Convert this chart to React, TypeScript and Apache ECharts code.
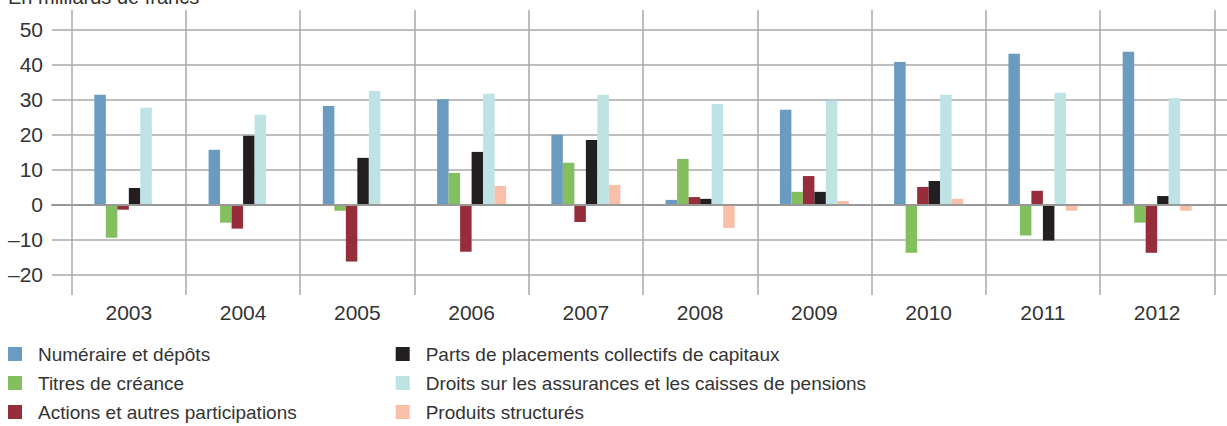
import React, { useEffect, useRef } from "react";
import * as echarts from "echarts";

const years = ["2003", "2004", "2005", "2006", "2007", "2008", "2009", "2010", "2011", "2012"];
const seriesNames = [
  "Numéraire et dépôts",
  "Titres de créance",
  "Actions et autres participations",
  "Parts de placements collectifs de capitaux",
  "Droits sur les assurances et les caisses de pensions",
  "Produits structurés",
];
const numeraire = [31.3, 15.6, 28.1, 30.0, 19.9, 1.3, 27.0, 40.7, 43.0, 43.6];
const titres = [-9.5, -5.2, -1.8, 9.0, 11.9, 13.0, 3.6, -13.8, -8.9, -5.2];
const actions = [-1.5, -6.9, -16.3, -13.5, -5.0, 2.1, 8.1, 5.0, 3.9, -13.8];
const parts = [4.7, 19.6, 13.3, 15.0, 18.4, 1.6, 3.6, 6.7, -10.3, 2.4];
const droits = [27.6, 25.6, 32.4, 31.6, 31.3, 28.7, 29.6, 31.3, 31.9, 30.4];
const produits = [0, 0, 0, 5.3, 5.6, -6.7, 1.0, 1.6, -1.8, -1.8];
const yTicks = { min: -20, max: 50, interval: 10 };
const colors = ["#6a9bc0", "#83bf5f", "#952d3a", "#231f20", "#bde3e5", "#f9bfa8"];
const title = "En milliards de francs";

const FONT = "Liberation Sans, Arial, sans-serif";
const TEXT = "#333333";
const GRID = "#a8a8a8";

export default function App() {
  const ref = useRef<HTMLDivElement>(null);
  useEffect(() => {
    if (!ref.current) return;
    const chart = echarts.init(ref.current, undefined, { renderer: "svg" });
    const values = [numeraire, titres, actions, parts, droits, produits];
    const legendBase = {
      orient: "vertical",
      top: 344,
      height: 82,
      padding: 0,
      itemWidth: 14,
      itemHeight: 14,
      itemGap: 9,
      icon: "rect",
      selectedMode: false,
      textStyle: { fontFamily: FONT, fontSize: 19, lineHeight: 20, color: TEXT, padding: [0, 0, 0, 11] },
    };
    chart.setOption({
      animation: false,
      textStyle: { fontFamily: FONT },
      grid: [
        { left: 71.7, width: 1142.6, top: 29.3, height: 245.2 },
        { left: 71.7, width: 1142.6, top: 10, height: 285 },
        { left: 52, right: 0, top: 29.3, height: 245.2 },
      ],
      xAxis: [
        { type: "category", data: years, gridIndex: 0, show: false },
        {
          type: "category",
          data: years,
          gridIndex: 1,
          axisLine: { show: false },
          axisTick: { show: false },
          axisLabel: { fontSize: 21, color: TEXT, margin: 7, fontFamily: FONT },
          splitLine: { show: true, lineStyle: { color: GRID, width: 1.5 } },
        },
        {
          type: "value",
          gridIndex: 2,
          min: 0,
          max: 1,
          z: 5,
          axisLine: { show: true, onZero: true, lineStyle: { color: "#999999", width: 2 } },
          axisTick: { show: false },
          axisLabel: { show: false },
          splitLine: { show: false },
        },
      ],
      yAxis: [
        { type: "value", gridIndex: 0, min: yTicks.min, max: yTicks.max, interval: yTicks.interval, show: false, splitLine: { show: false } },
        { type: "value", gridIndex: 1, min: 0, max: 1, show: false, splitLine: { show: false } },
        {
          type: "value",
          gridIndex: 2,
          min: yTicks.min,
          max: yTicks.max,
          interval: yTicks.interval,
          axisLine: { show: false },
          axisTick: { show: false },
          axisLabel: {
            fontSize: 21,
            color: TEXT,
            margin: 9,
            fontFamily: FONT,
            formatter: (v: number) => (v < 0 ? "\u2013" + Math.abs(v) : String(v)),
          },
          splitLine: { show: true, lineStyle: { color: GRID, width: 1.5 } },
        },
      ],
      legend: [
        { ...legendBase, left: 8, data: seriesNames.slice(0, 3) },
        { ...legendBase, left: 395.7, data: seriesNames.slice(3, 6) },
      ],
      graphic: [
        {
          type: "text",
          left: 8,
          top: -13,
          style: { text: title, fontSize: 20, fill: TEXT, fontFamily: FONT },
        },
      ],
      series: seriesNames.map((name, i) => ({
        name,
        type: "bar",
        xAxisIndex: 0,
        yAxisIndex: 0,
        data: values[i],
        barWidth: 11.5,
        barGap: "0%",
        itemStyle: { color: colors[i] },
      })),
    });
    return () => chart.dispose();
  }, []);
  return (
    <div
      ref={ref}
      style={{ position: "fixed", left: 0, top: 0, width: 1227, height: 426, background: "#fff" }}
    />
  );
}
